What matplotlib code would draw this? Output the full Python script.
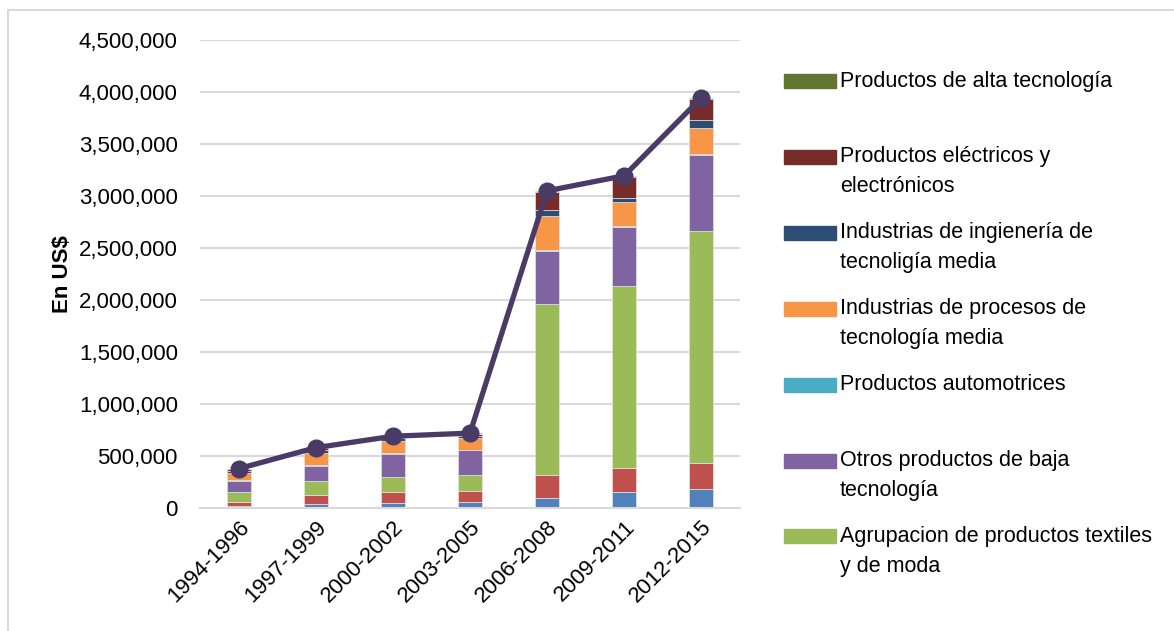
import numpy as np
import matplotlib
matplotlib.use("Agg")
import matplotlib.pyplot as plt
from matplotlib.patches import Rectangle

plt.rcParams['font.family'] = ['Liberation Sans', 'DejaVu Sans']

periodos = ['1994-1996', '1997-1999', '2000-2002', '2003-2005',
            '2006-2008', '2009-2011', '2012-2015']

# exportaciones por grupo tecnologico (US$), de abajo hacia arriba en cada barra
primarios    = [20000, 41000, 48000, 60000, 99000, 154000, 180000]
recursos     = [40000, 81000, 109000, 106000, 218000, 228000, 256000]
textiles     = [97000, 135000, 144000, 148000, 1646000, 1753000, 2227000]
otros_baja   = [103000, 150000, 221000, 241000, 505000, 570000, 731000]
automotrices = [5000, 5000, 5000, 5000, 8000, 8000, 8000]
procesos     = [75000, 120000, 117000, 113000, 335000, 229000, 255000]
ingenieria   = [20000, 30000, 30000, 19000, 57000, 42000, 71000]
electricos   = [12000, 12000, 10000, 17000, 173000, 199000, 202000]
alta         = [6000, 6000, 6000, 11000, 9000, 12000, 15000]

series = [primarios, recursos, textiles, otros_baja, automotrices,
          procesos, ingenieria, electricos, alta]
colores = ['#4F81BD', '#C0504D', '#9BBB59', '#8064A2', '#4BACC6',
           '#F79646', '#2C4D75', '#772C2A', '#5F7530']

leyenda = [
    ('Productos de alta tecnología', '#5F7530'),
    ('Productos eléctricos y\nelectrónicos', '#772C2A'),
    ('Industrias de ingienería de\ntecnoligía media', '#2C4D75'),
    ('Industrias de procesos de\ntecnología media', '#F79646'),
    ('Productos automotrices', '#4BACC6'),
    ('Otros productos de baja\ntecnología', '#8064A2'),
    ('Agrupacion de productos textiles\ny de moda', '#9BBB59'),
]

W, H = 1174, 631
fig = plt.figure(figsize=(W / 100, H / 100), dpi=100)
ax = fig.add_axes([200 / W, 1 - 508 / H, 540 / W, 468 / H])

x = np.arange(len(periodos))
base = np.zeros(len(periodos))
for vals, c in zip(series, colores):
    ax.bar(x, vals, width=0.31, bottom=base, color=c,
           edgecolor='#e4e4e4', linewidth=0.5, zorder=2)
    base += np.array(vals)

total = base
ax.plot(x, total, color='#4A3A66', linewidth=3.8, marker='o',
        markersize=12, zorder=3)

ax.set_xlim(-0.5, len(periodos) - 0.5)
ax.set_ylim(0, 4500000)
ax.set_yticks(np.arange(0, 4500001, 500000))
ax.set_yticklabels([f'{int(v):,}' for v in np.arange(0, 4500001, 500000)],
                   fontsize=16)
ax.set_xticks(x)
ax.set_xticklabels(periodos, rotation=45, ha='right', rotation_mode='anchor',
                   fontsize=16)
ax.tick_params(axis='y', length=0, pad=16)
ax.tick_params(axis='x', length=0, pad=6)
ax.grid(axis='y', color='#D9D9D9', linewidth=1.5, zorder=0)
ax.set_axisbelow(True)
for s in ['top', 'right', 'left']:
    ax.spines[s].set_visible(False)
ax.spines['bottom'].set_color('#D9D9D9')
ax.spines['bottom'].set_linewidth(1.5)

fig.text(62 / W, 1 - 274 / H, 'En US$', rotation=90, fontsize=16,
         fontweight='bold', ha='center', va='center')

# leyenda dibujada a mano para alinear cada muestra con la primera linea
y0, paso, salto = 81, 75.9, 30
for i, (texto, c) in enumerate(leyenda):
    yc = y0 + i * paso
    fig.patches.append(Rectangle((784 / W, 1 - (yc + 7) / H), 52 / W, 14 / H,
                                 transform=fig.transFigure, color=c))
    for j, linea in enumerate(texto.split('\n')):
        fig.text(840 / W, 1 - (yc + j * salto) / H, linea, fontsize=15.5,
                 ha='left', va='center')

# marco del area del grafico
fig.patches.append(Rectangle((8 / W, -0.05), 1.1, 1 - 10 / H + 0.05,
                             transform=fig.transFigure, fill=False,
                             edgecolor='#D9D9D9', linewidth=1.5))

fig.savefig('out.png', dpi=100)
